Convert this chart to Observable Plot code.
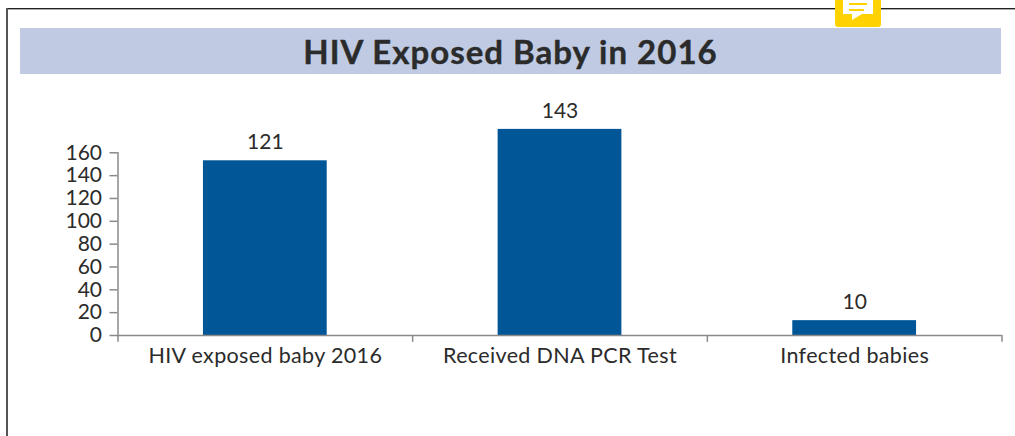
<!DOCTYPE html>
<html>
<head>
<meta charset="utf-8">
<script src="https://cdn.jsdelivr.net/npm/d3@7"></script>
<script src="https://cdn.jsdelivr.net/npm/@observablehq/plot@0.6"></script>
<style>
html,body{margin:0;padding:0;background:#fff;overflow:hidden}
#wrap{position:relative;width:1015px;height:436px;overflow:hidden;font-family:Lato,sans-serif}
#frameTop{position:absolute;left:6px;top:8px;width:1009px;height:1px;background:#222;box-shadow:0 1px 0 #aaa}
#frameLeft{position:absolute;left:6px;top:8px;width:2px;height:428px;background:#555}
#title{position:absolute;left:20px;top:28px;width:981px;height:46px;line-height:46px;background:#c0cbe3;
 text-align:center;font-weight:700;font-size:33px;color:#2b2b2b;letter-spacing:1px;-webkit-text-stroke:.4px #2b2b2b}
#note{position:absolute;left:835px;top:-4px;width:46px;height:31px;background:#ffd200;border-radius:3px}
#note .b{position:absolute;left:8px;top:0;width:30px;height:18px;background:#fff}
#note .t{position:absolute;left:17px;top:18px;width:10px;height:6px;background:#fff;clip-path:polygon(0 0,100% 0,0 100%)}
#note .l{position:absolute;background:#ffd200;height:2px}
#wrap svg{position:absolute;left:0;top:0}
.catlabel text{letter-spacing:.35px}
</style>
</head>
<body>
<div id="wrap"></div>
<script>
const categories = ["HIV exposed baby 2016", "Received DNA PCR Test", "Infected babies"];
// Bar heights as read against the drawn axis (the picture's bars do not match their printed labels)
const barHeights = [153, 180.5, 13];
const valueLabels = ["121", "143", "10"];
const yTicks = [0, 20, 40, 60, 80, 100, 120, 140, 160];

const rows = categories.map((c, i) => ({category: c, height: barHeights[i], label: valueLabels[i]}));
const step = 884 / 3;
const axisColor = "#8a8a8a", textColor = "#2b2b2b";

const chart = Plot.plot({
  width: 1015,
  height: 436,
  marginLeft: 117.5, marginRight: 13.5, marginTop: 152.3, marginBottom: 101,
  x: {domain: categories, paddingInner: 0.58, paddingOuter: 0.29, align: 0.5, round: false, axis: null},
  y: {domain: [0, 160], axis: null},
  style: {background: "transparent", fontFamily: "Lato, sans-serif", color: textColor},
  marks: [
    Plot.barY(rows, {x: "category", y: "height", fill: "#015697"}),
    // y axis
    Plot.axisY({ticks: yTicks, anchor: "left", tickSize: 8, tickPadding: 8, fontSize: 21,
      stroke: axisColor, strokeWidth: 1.5, fill: textColor, label: null, tickFormat: d => d}),
    Plot.frame({anchor: "left", stroke: axisColor, strokeWidth: 1.5}),
    // x axis
    Plot.ruleY([0], {stroke: axisColor, strokeWidth: 1.5}),
    Plot.ruleX(categories, {x: d => d, dx: -step / 2, y1: 0, y2: -6, stroke: axisColor, strokeWidth: 1.5}),
    Plot.ruleX(categories.slice(-1), {x: d => d, dx: step / 2, y1: 0, y2: -6, stroke: axisColor, strokeWidth: 1.5}),
    Plot.text(rows, {x: "category", y: 0, text: "category", dy: 21, fontSize: 21.5, fill: textColor, className: "catlabel"}),
    // value labels
    Plot.text(rows, {x: "category", y: "height", text: "label", dy: -18.5, fontSize: 21, fill: textColor})
  ]
});

const wrap = document.getElementById("wrap");
wrap.appendChild(chart);
wrap.insertAdjacentHTML("beforeend",
  '<div id="frameTop"></div><div id="frameLeft"></div>' +
  '<div id="title">HIV Exposed Baby in 2016</div>' +
  '<div id="note"><div class="b"><div class="l" style="left:6px;top:7px;width:18px"></div><div class="l" style="left:6px;top:13px;width:15px"></div></div><div class="t"></div></div>');
</script>
</body>
</html>
